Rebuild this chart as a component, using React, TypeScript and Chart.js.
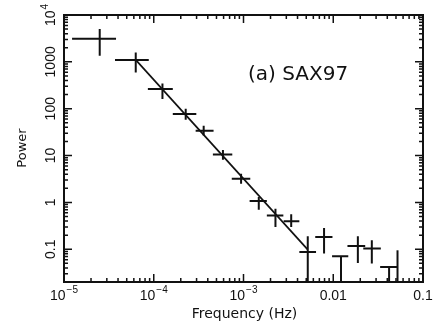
import React, { useEffect, useRef } from "react";
import { Chart, registerables } from "chart.js";

Chart.register(...registerables);

// Power density spectrum, SAX 1997 observation
const freq = [2.5e-5, 6.3e-5, 1.25e-4, 2.27e-4, 3.6e-4, 5.9e-4, 9.4e-4, 1.48e-3, 2.27e-3, 3.4e-3, 5.2e-3, 7.9e-3, 1.22e-2, 1.88e-2, 2.69e-2, 4.19e-2, 5.2e-2];
const freqLo = [1.23e-5, 3.7e-5, 8.6e-5, 1.63e-4, 2.93e-4, 4.56e-4, 7.4e-4, 1.17e-3, 1.82e-3, 2.8e-3, 4.19e-3, 6.3e-3, 9.7e-3, 1.44e-2, 2.16e-2, 3.33e-2, 5.2e-2];
const freqHi = [3.8e-5, 8.8e-5, 1.63e-4, 2.98e-4, 4.64e-4, 7.5e-4, 1.19e-3, 1.82e-3, 2.78e-3, 4.19e-3, 6.43e-3, 9.8e-3, 1.47e-2, 2.27e-2, 3.39e-2, 5.18e-2, 5.2e-2];
const power = [3130, 1100, 262, 77, 34, 10.5, 3.19, 1.07, 0.528, 0.394, 0.0877, 0.183, 0.071, 0.117, 0.1035, 0.042, 0.01];
const powerLo = [1350, 590, 162, 58, 26.7, 8.1, 2.5, 0.7, 0.3, 0.298, 0.001, 0.081, 0.001, 0.051, 0.0497, 0.001, 0.001];
const powerHi = [5000, 1580, 345, 100, 43.5, 13.2, 4.08, 1.3, 0.73, 0.556, 0.189, 0.284, 0.071, 0.189, 0.155, 0.042, 0.095];

// Power-law fit
const fitFreq = [6.3e-5, 5.2e-3];
const fitPower = [1100, 0.0985];

const xMin = 1e-5;
const xMax = 0.1;
const yMin = 0.02;
const yMax = 1e4;

const xTickValues = [1e-5, 1e-4, 1e-3, 0.01, 0.1];
const xTickLabels = ["10^\u22125", "10^\u22124", "10^\u22123", "0.01", "0.1"];
const yTickValues = [0.1, 1, 10, 100, 1000, 1e4];
const yTickLabels = ["0.1", "1", "10", "100", "1000", "10^4"];

const panelLabel = "(a) SAX97";
const xTitle = "Frequency (Hz)";
const yTitle = "Power";

const TICK_FONT = '"Liberation Sans", Arial, sans-serif';
const TITLE_FONT = '"DejaVu Sans", sans-serif';
const INK = "#111";

// draws "base^sup" centred on x with its baseline at y
function drawPowerLabel(ctx: CanvasRenderingContext2D, text: string, x: number, y: number, size: number) {
  const [base, sup] = text.split("^");
  const supSize = Math.round(size * 0.72);
  ctx.font = `${size}px ${TICK_FONT}`;
  const wb = ctx.measureText(base).width;
  let ws = 0;
  if (sup) {
    ctx.font = `${supSize}px ${TICK_FONT}`;
    ws = ctx.measureText(sup).width + 1;
  }
  const start = x - (wb + ws) / 2;
  ctx.textAlign = "left";
  ctx.textBaseline = "alphabetic";
  ctx.font = `${size}px ${TICK_FONT}`;
  ctx.fillText(base, start, y);
  if (sup) {
    ctx.font = `${supSize}px ${TICK_FONT}`;
    ctx.fillText(sup, start + wb + 1, y - size * 0.5);
  }
}

const errorBars = {
  id: "errorBars",
  afterDatasetsDraw(chart: any) {
    const { ctx, chartArea: a, scales } = chart;
    const sx = scales.x;
    const sy = scales.y;
    ctx.save();
    ctx.beginPath();
    ctx.rect(a.left, a.top, a.right - a.left, a.bottom - a.top);
    ctx.clip();
    ctx.strokeStyle = INK;
    ctx.lineWidth = 2;
    freq.forEach((f, i) => {
      const px = sx.getPixelForValue(f);
      const py = sy.getPixelForValue(power[i]);
      ctx.beginPath();
      ctx.moveTo(sx.getPixelForValue(freqLo[i]), py);
      ctx.lineTo(sx.getPixelForValue(freqHi[i]), py);
      ctx.moveTo(px, sy.getPixelForValue(powerHi[i]));
      ctx.lineTo(px, sy.getPixelForValue(powerLo[i]));
      ctx.stroke();
    });
    ctx.restore();
  },
};

const frame = {
  id: "frame",
  afterDraw(chart: any) {
    const { ctx, chartArea: a, scales } = chart;
    const sx = scales.x;
    const sy = scales.y;
    ctx.save();
    ctx.strokeStyle = INK;
    ctx.fillStyle = INK;

    // ticks on all four sides, pointing inwards
    ctx.lineWidth = 1.5;
    ctx.beginPath();
    for (let d = -5; d <= -1; d++) {
      for (let m = 1; m <= 9; m++) {
        const v = m * Math.pow(10, d);
        if (v < xMin * 0.999 || v > xMax * 1.001) continue;
        const px = sx.getPixelForValue(v);
        const len = m === 1 ? 8 : 4;
        ctx.moveTo(px, a.bottom);
        ctx.lineTo(px, a.bottom - len);
        ctx.moveTo(px, a.top);
        ctx.lineTo(px, a.top + len);
      }
    }
    for (let d = -2; d <= 4; d++) {
      for (let m = 1; m <= 9; m++) {
        const v = m * Math.pow(10, d);
        if (v < yMin * 0.999 || v > yMax * 1.001) continue;
        const py = sy.getPixelForValue(v);
        const len = m === 1 ? 8 : 4;
        ctx.moveTo(a.left, py);
        ctx.lineTo(a.left + len, py);
        ctx.moveTo(a.right, py);
        ctx.lineTo(a.right - len, py);
      }
    }
    ctx.stroke();

    ctx.lineWidth = 2;
    ctx.strokeRect(a.left, a.top, a.right - a.left, a.bottom - a.top);

    // x tick labels
    xTickValues.forEach((v, i) => {
      drawPowerLabel(ctx, xTickLabels[i], sx.getPixelForValue(v), a.bottom + 18, 14);
    });

    // y tick labels, rotated
    yTickValues.forEach((v, i) => {
      ctx.save();
      ctx.translate(a.left - 14, sy.getPixelForValue(v));
      ctx.rotate(-Math.PI / 2);
      drawPowerLabel(ctx, yTickLabels[i], 0, 5, 14);
      ctx.restore();
    });

    // axis titles
    ctx.font = `14px ${TITLE_FONT}`;
    ctx.textAlign = "center";
    ctx.textBaseline = "alphabetic";
    ctx.fillText(xTitle, (a.left + a.right) / 2 + 1, a.bottom + 36);

    ctx.save();
    ctx.translate(26, 148);
    ctx.rotate(-Math.PI / 2);
    ctx.font = `13px ${TITLE_FONT}`;
    ctx.textAlign = "center";
    ctx.fillText(yTitle, 0, 0);
    ctx.restore();

    // panel label
    ctx.font = `20px ${TITLE_FONT}`;
    ctx.textAlign = "left";
    ctx.fillText(panelLabel, 248, 80);

    ctx.restore();
  },
};

export default function App() {
  const ref = useRef<HTMLCanvasElement>(null);

  useEffect(() => {
    document.body.style.margin = "0";
    const canvas = ref.current!;
    const chart = new Chart(canvas, {
      type: "scatter",
      data: {
        datasets: [
          {
            label: "SAX97",
            data: freq.map((f, i) => ({ x: f, y: power[i] })),
            pointRadius: 0,
            showLine: false,
          },
          {
            label: "power-law fit",
            data: fitFreq.map((f, i) => ({ x: f, y: fitPower[i] })),
            showLine: true,
            borderColor: INK,
            borderWidth: 1.7,
            pointRadius: 0,
          },
        ],
      },
      options: {
        responsive: false,
        animation: false,
        devicePixelRatio: 1,
        layout: { padding: { left: 64, right: 10, top: 15, bottom: 45 } },
        plugins: { legend: { display: false }, tooltip: { enabled: false } },
        scales: {
          x: { type: "logarithmic", min: xMin, max: xMax, bounds: "data", display: false },
          y: { type: "logarithmic", min: yMin, max: yMax, bounds: "data", display: false },
        },
      },
      plugins: [errorBars, frame],
    });
    return () => chart.destroy();
  }, []);

  return (
    <div style={{ width: 433, height: 327, background: "#fff" }}>
      <canvas ref={ref} width={433} height={327} style={{ display: "block" }} />
    </div>
  );
}
